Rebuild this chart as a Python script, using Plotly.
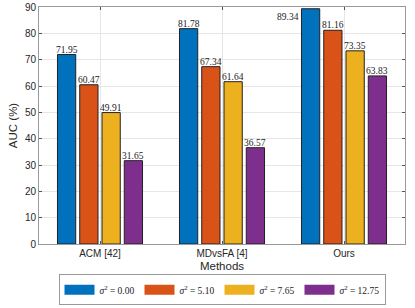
import plotly.graph_objects as go

methods = ["ACM [42]", "MDvsFA [4]", "Ours"]
sigma_labels = ["0.00", "5.10", "7.65", "12.75"]
auc_s0 = [71.95, 81.78, 89.34]
auc_s1 = [60.47, 67.34, 81.16]
auc_s2 = [49.91, 61.64, 73.35]
auc_s3 = [31.65, 36.57, 63.83]
series = [auc_s0, auc_s1, auc_s2, auc_s3]
colors = ["#0072BD", "#D95319", "#EDB120", "#7E2F8E"]

ymax = 90
bargap = 0.27
group_w = 1 - bargap
n = len(series)
slot = group_w / n
x_idx = list(range(len(methods)))

fig = go.Figure()
for k, vals in enumerate(series):
    fig.add_trace(go.Bar(
        x=x_idx, y=vals,
        name="<i>σ</i><sup>2</sup> = " + sigma_labels[k],
        marker=dict(color=colors[k], line=dict(color="#222222", width=1)),
        showlegend=False,
    ))
    # legend-only entry with a wide patch
    fig.add_trace(go.Scatter(
        x=[None], y=[None], mode="lines",
        line=dict(color=colors[k], width=10),
        name="<i>σ</i><sup>2</sup> = " + sigma_labels[k],
    ))

annotations = []
for k, vals in enumerate(series):
    off = -group_w / 2 + slot * (k + 0.5)
    for i, v in enumerate(vals):
        if v > ymax - 3:
            annotations.append(dict(
                x=i + off - slot * 0.42, y=v, text=f"{v:.2f}", showarrow=False,
                xanchor="right", yanchor="top", yshift=-1,
                font=dict(family="Liberation Serif", size=9.5, color="#222"),
            ))
        else:
            annotations.append(dict(
                x=i + off, y=v, text=f"{v:.2f}", showarrow=False,
                xanchor="center", yanchor="bottom", yshift=-2,
                font=dict(family="Liberation Serif", size=9.5, color="#222"),
            ))

fig.update_layout(
    width=415, height=308,
    margin=dict(l=39, r=10, t=7, b=64, autoexpand=False),
    paper_bgcolor="white", plot_bgcolor="white",
    barmode="group", bargap=bargap, bargroupgap=0.18,
    font=dict(family="Liberation Sans", size=10, color="#262626"),
    annotations=annotations,
    legend=dict(
        orientation="h", x=0.5, xanchor="center", y=-0.128, yanchor="top",
        bordercolor="#999", borderwidth=1, itemwidth=30,
        font=dict(family="Liberation Serif", size=9.5, color="#222"),
        tracegroupgap=0, entrywidth=0,
    ),
)
fig.update_xaxes(
    range=[-0.5, 2.5], tickvals=x_idx, ticktext=methods,
    showgrid=True, gridcolor="#e6e6e6", gridwidth=1,
    showline=True, linecolor="#999", linewidth=1, mirror="ticks",
    ticks="inside", ticklen=3, tickcolor="#555",
    title=dict(text="Methods", font=dict(size=11.5), standoff=3),
    zeroline=False, automargin=False,
)
fig.update_yaxes(
    range=[0, ymax], dtick=10,
    showgrid=True, gridcolor="#e6e6e6", gridwidth=1,
    showline=True, linecolor="#999", linewidth=1, mirror="ticks",
    ticks="inside", ticklen=3, tickcolor="#555",
    title=dict(text="AUC (%)", font=dict(size=11.5), standoff=4),
    zeroline=False, automargin=False,
)

fig.write_html(
    "out.html",
    config={"displayModeBar": False},
    post_script="document.body.style.margin='0';document.body.style.overflow='hidden';",
)
